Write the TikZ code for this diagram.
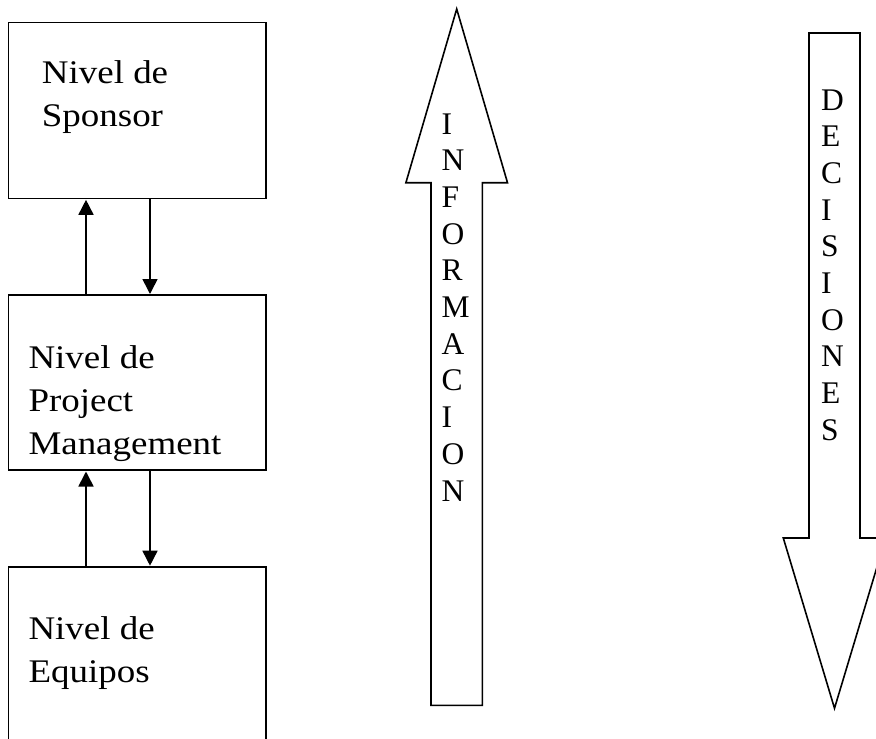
\documentclass[tikz,border=0pt]{standalone}
\usepackage{fontspec}
\usetikzlibrary{arrows.meta}
\setmainfont{Liberation Serif}
\newfontfamily\boxfont{Liberation Serif}[FakeStretch=1.12]
\begin{document}
\begin{tikzpicture}[x=1pt,y=-1pt,
  nivel/.style={draw,line width=1.6pt,minimum width=257.4pt,inner sep=0pt,outer sep=0pt,anchor=north west},
  lbl/.style={font=\boxfont\fontsize{33}{43}\selectfont,align=left,inner sep=0pt,anchor=base west},
  flujo/.style={line width=1.6pt,-{Triangle[length=15pt,width=15pt]}},
  flecha/.style={draw,line width=1.6pt,line join=miter},
  letras/.style={font=\fontsize{31.5}{36.7}\selectfont,align=left,inner sep=0pt,anchor=base west}]
  \clip (0,0) rectangle (876,739);
  % levels
  \node[nivel,minimum height=176pt] (sponsor) at (8.3,22.3) {};
  \node[nivel,minimum height=175pt] (pm) at (8.3,295) {};
  \node[nivel,minimum height=200pt] (equipos) at (8.3,566.7) {};
  % labels (anchored on the last line)
  \node[lbl] (tsponsor) at (41.7,126.2) {Nivel de\\Sponsor};
  \node[lbl] (tpm) at (28.3,454.3) {Nivel de\\Project\\Management};
  \node[lbl] (tequipos) at (28.3,682.5) {Nivel de\\Equipos};
  \foreach \a/\b in {sponsor/pm, pm/equipos} {
    \draw[flujo] ([xshift=77.7pt]\b.north west) -- ([xshift=77.7pt,yshift=-1.5pt]\a.south west);
    \draw[flujo] ([xshift=141.7pt]\a.south west) -- ([xshift=141.7pt,yshift=1pt]\b.north west);
  }
  % big arrows
  \draw[flecha] (431,705.3) -- (431,182.7) -- (405.9,182.7) -- (456.7,9) -- (507.5,182.7) -- (482.3,182.7) -- (482.3,705.3) -- cycle;
  \node[letras] (info) at (441.5,501) {I\\N\\F\\O\\R\\M\\A\\C\\I\\O\\N};
  \draw[flecha] (809,33) -- (809,538) -- (783.3,538) -- (834.5,708.3) -- (885.7,538) -- (860,538) -- (860,33) -- cycle;
  \node[letras] (dec) at (821,440.3) {D\\E\\C\\I\\S\\I\\O\\N\\E\\S};
\end{tikzpicture}
\end{document}
